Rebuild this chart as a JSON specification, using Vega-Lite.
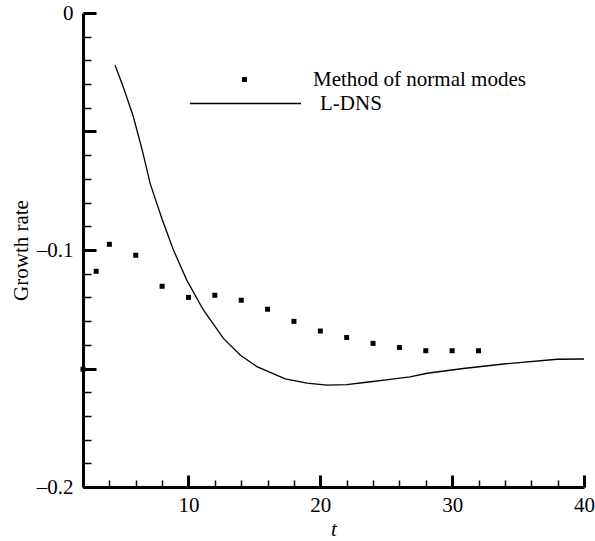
{
  "$schema": "https://vega.github.io/schema/vega-lite/v6.json",
  "width": 501,
  "height": 474,
  "autosize": {"type": "none"},
  "padding": {"left": 83, "top": 13, "right": 11, "bottom": 54},
  "background": "white",
  "config": {
    "view": {"stroke": null},
    "font": "Liberation Serif",
    "axis": {
      "domainColor": "black",
      "domainWidth": 3,
      "tickColor": "black",
      "labelColor": "black",
      "titleColor": "black",
      "labelFont": "Liberation Serif",
      "titleFont": "Liberation Serif",
      "labelFontSize": 21,
      "titleFontSize": 21,
      "titleFontWeight": "normal",
      "grid": false
    },
    "legend": {
      "labelFont": "Liberation Serif",
      "labelFontSize": 21,
      "labelColor": "black",
      "labelLimit": 0,
      "padding": 0
    }
  },
  "datasets": {
    "modes": [
      {"t": 2, "rate": -0.1503, "method": "Method of normal modes"},
      {"t": 3, "rate": -0.109, "method": "Method of normal modes"},
      {"t": 4, "rate": -0.0976, "method": "Method of normal modes"},
      {"t": 6, "rate": -0.1022, "method": "Method of normal modes"},
      {"t": 8, "rate": -0.1153, "method": "Method of normal modes"},
      {"t": 10, "rate": -0.12, "method": "Method of normal modes"},
      {"t": 12, "rate": -0.1191, "method": "Method of normal modes"},
      {"t": 14, "rate": -0.1212, "method": "Method of normal modes"},
      {"t": 16, "rate": -0.125, "method": "Method of normal modes"},
      {"t": 18, "rate": -0.1301, "method": "Method of normal modes"},
      {"t": 20, "rate": -0.1342, "method": "Method of normal modes"},
      {"t": 22, "rate": -0.1369, "method": "Method of normal modes"},
      {"t": 24, "rate": -0.1394, "method": "Method of normal modes"},
      {"t": 26, "rate": -0.1411, "method": "Method of normal modes"},
      {"t": 28, "rate": -0.1425, "method": "Method of normal modes"},
      {"t": 30, "rate": -0.1425, "method": "Method of normal modes"},
      {"t": 32, "rate": -0.1425, "method": "Method of normal modes"}
    ],
    "dns": [
      {"t": 4.43, "rate": -0.0219, "model": "L-DNS"},
      {"t": 5.1, "rate": -0.032, "model": "L-DNS"},
      {"t": 5.82, "rate": -0.0438, "model": "L-DNS"},
      {"t": 6.5, "rate": -0.058, "model": "L-DNS"},
      {"t": 7.09, "rate": -0.0719, "model": "L-DNS"},
      {"t": 8.0, "rate": -0.087, "model": "L-DNS"},
      {"t": 8.86, "rate": -0.1, "model": "L-DNS"},
      {"t": 9.87, "rate": -0.1127, "model": "L-DNS"},
      {"t": 11.13, "rate": -0.1253, "model": "L-DNS"},
      {"t": 12.65, "rate": -0.1373, "model": "L-DNS"},
      {"t": 13.92, "rate": -0.1443, "model": "L-DNS"},
      {"t": 15.19, "rate": -0.1492, "model": "L-DNS"},
      {"t": 17.34, "rate": -0.1544, "model": "L-DNS"},
      {"t": 19.0, "rate": -0.1562, "model": "L-DNS"},
      {"t": 20.5, "rate": -0.157, "model": "L-DNS"},
      {"t": 22.0, "rate": -0.1568, "model": "L-DNS"},
      {"t": 23.5, "rate": -0.1558, "model": "L-DNS"},
      {"t": 25.3, "rate": -0.1546, "model": "L-DNS"},
      {"t": 26.8, "rate": -0.1535, "model": "L-DNS"},
      {"t": 28.1, "rate": -0.152, "model": "L-DNS"},
      {"t": 30.85, "rate": -0.15, "model": "L-DNS"},
      {"t": 33.9, "rate": -0.1481, "model": "L-DNS"},
      {"t": 37.97, "rate": -0.1461, "model": "L-DNS"},
      {"t": 40.0, "rate": -0.146, "model": "L-DNS"}
    ]
  },
  "encoding": {
    "x": {
      "field": "t",
      "type": "quantitative",
      "scale": {"domain": [2, 40], "nice": false, "zero": false},
      "axis": {
        "title": "t",
        "titleFont": "Liberation Serif",
        "titleFontSize": 21,
        "titleFontStyle": "italic",
        "titlePadding": 3,
        "labelFont": "Liberation Serif",
        "labelFontSize": 21,
        "values": [2, 4, 6, 8, 10, 12, 14, 16, 18, 20, 22, 24, 26, 28, 30, 32, 34, 36, 38, 40],
        "labelExpr": "datum.value % 10 === 0 ? format(datum.value, 'd') : ''",
        "tickSize": {"condition": {"test": "datum.value % 10 === 0", "value": -12}, "value": -7},
        "tickWidth": {"condition": {"test": "datum.value % 10 === 0", "value": 3}, "value": 1.5},
        "labelPadding": 19,
        "labelFlush": false
      }
    },
    "y": {
      "field": "rate",
      "type": "quantitative",
      "scale": {"domain": [-0.2, 0], "nice": false, "zero": false},
      "axis": {
        "title": "Growth rate",
        "titleFont": "Liberation Serif",
        "titleFontSize": 21,
        "titlePadding": 5,
        "labelFont": "Liberation Serif",
        "labelFontSize": 21,
        "values": [-0.2, -0.19, -0.18, -0.17, -0.16, -0.15, -0.14, -0.13, -0.12, -0.11, -0.1, -0.09, -0.08, -0.07, -0.06, -0.05, -0.04, -0.03, -0.02, -0.01, 0],
        "labelExpr": "abs(round(datum.value * 100)) % 10 === 0 ? (abs(datum.value) < 1e-9 ? '0' : '–' + format(abs(datum.value), '.1f')) : ''",
        "tickSize": {"condition": {"test": "abs(round(datum.value * 100)) % 5 === 0", "value": -13}, "value": -8},
        "tickWidth": {"condition": {"test": "abs(round(datum.value * 100)) % 5 === 0", "value": 3}, "value": 1.5},
        "labelPadding": 23,
        "labelFlush": false
      }
    }
  },
  "layer": [
    {
      "data": {"name": "dns"},
      "mark": {"type": "line", "strokeWidth": 1.3, "interpolate": "linear"},
      "encoding": {
        "stroke": {
          "field": "model",
          "type": "nominal",
          "scale": {"range": ["black"]},
          "legend": {
            "orient": "none",
            "legendX": 106,
            "legendY": 34,
            "title": null,
            "symbolType": "stroke",
            "symbolSize": 12321,
            "symbolStrokeWidth": 1.3,
            "symbolStrokeColor": "black",
            "labelOffset": 18
          }
        }
      }
    },
    {
      "data": {"name": "modes"},
      "mark": {"type": "point", "filled": true, "color": "black", "size": 25, "opacity": 1},
      "encoding": {
        "shape": {
          "field": "method",
          "type": "nominal",
          "scale": {"range": ["square"]},
          "legend": {
            "orient": "none",
            "legendX": 151,
            "legendY": 56,
            "title": null,
            "symbolSize": 25,
            "symbolFillColor": "black",
            "symbolStrokeWidth": 0,
            "symbolOpacity": 1,
            "labelOffset": 58
          }
        }
      }
    }
  ]
}
